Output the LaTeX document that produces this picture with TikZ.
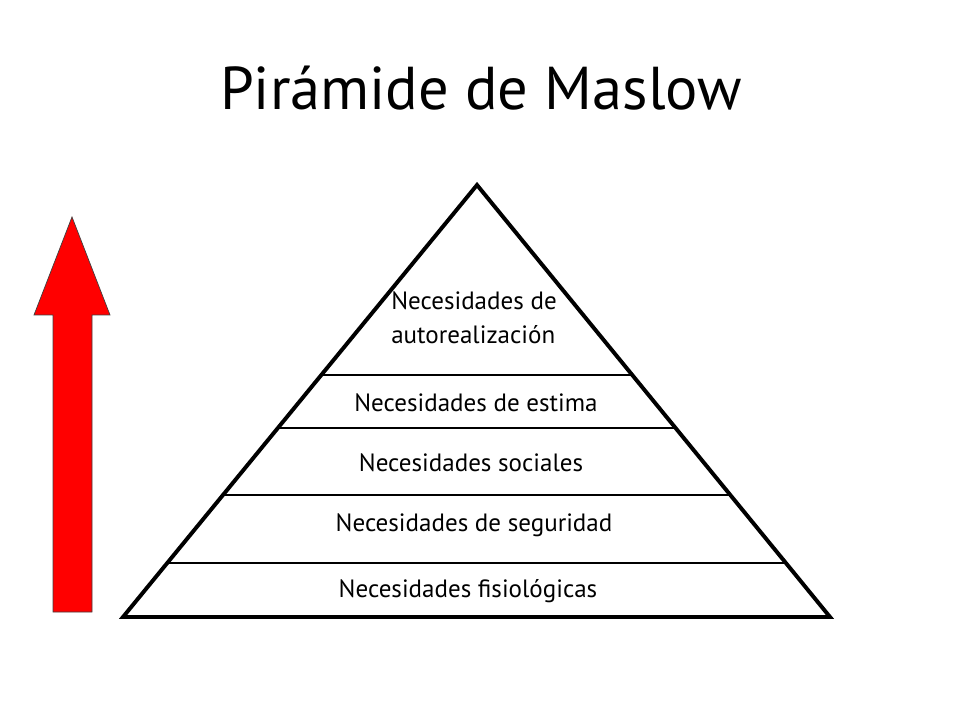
\documentclass[tikz,border=0pt]{standalone}
\usepackage{fontspec}
\setmainfont{PT Sans}
\usetikzlibrary{calc}
\tikzset{
    level/.style={font=\fontsize{17.8}{24}\selectfont},
    divider/.style={line width=0.9pt},
    arrowbody/.style={fill=red, draw=black!75, line width=0.5pt},
}

\begin{document}
\begin{tikzpicture}[x=0.025cm, y=-0.025cm]
    \useasboundingbox (0,0) rectangle (960,720);
    \node[font=\fontsize{43}{48}\selectfont, anchor=base] (title) at (481,110) {Pirámide de Maslow};

    \coordinate (apex) at (477,185);
    \coordinate (bl) at (123,617);
    \coordinate (br) at (830,617);

    \foreach \f in {0.44,0.5625,0.7176,0.875}
        \draw[divider] ($(apex)!\f!(bl)$) -- ($(apex)!\f!(br)$);
    \draw[line width=2.8pt] (apex) -- (bl) -- (br) -- cycle;

    \node[level, align=left] (self) at (474,318) {Necesidades de\\autorealización};
    \node[level] (esteem) at (476,403) {Necesidades de estima};
    \node[level] (social) at (471,463) {Necesidades sociales};
    \node[level] (safety) at (474,525) {Necesidades de seguridad};
    \node[level] (body) at (468,591) {Necesidades fisiológicas};

    \draw[arrowbody] (53,612) -- (53,315) -- (34,315) -- (72,217)
        -- (110,315) -- (92,315) -- (92,612) -- cycle;
\end{tikzpicture}
\end{document}
